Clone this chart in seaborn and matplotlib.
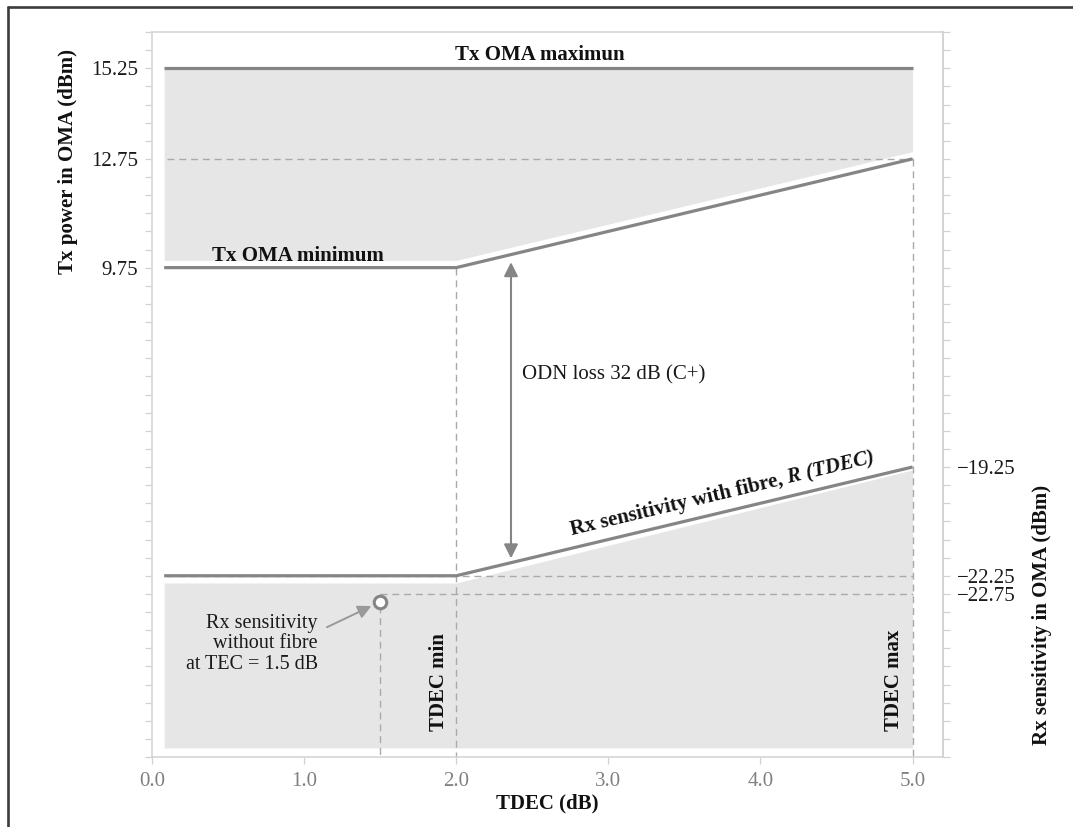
import numpy as np
import pandas as pd
import matplotlib
matplotlib.use("Agg")
import matplotlib.pyplot as plt
import matplotlib.transforms as mtransforms
from matplotlib.lines import Line2D
from matplotlib.ticker import FixedLocator, FixedFormatter
import seaborn as sns

# ---- data -------------------------------------------------------------
tdec = [0.08, 2.0, 5.0]                 # TDEC (dB) break points
tx_oma_max = [15.25, 15.25, 15.25]      # Tx OMA maximum (dBm)
tx_oma_min = [9.75, 9.75, 12.75]        # Tx OMA minimum (dBm)
rx_sens = [-22.25, -22.25, -19.25]      # Rx sensitivity with fibre, R(TDEC) (dBm)
odn_loss = 32                           # dB, class C+
tdec_min, tdec_max = 2.0, 5.0
tec_ref = 1.5                           # TEC of the reference receiver (dB)
rx_sens_no_fibre = -22.75               # Rx sensitivity without fibre (dBm)

tx_tick_values = [9.75, 12.75, 15.25]
tx_tick_labels = ["9.75", "12.75", "15.25"]
rx_tick_values = [-22.75, -22.25, -19.25]
rx_tick_labels = ["\u221222.75", "\u221222.25", "\u221219.25"]
x_tick_values = [0.0, 1.0, 2.0, 3.0, 4.0, 5.0]
x_tick_labels = ["0.0", "1.0", "2.0", "3.0", "4.0", "5.0"]

# ---- style ------------------------------------------------------------
sns.set_theme(style="white")
plt.rcParams["font.family"] = ["Liberation Serif", "DejaVu Serif"]

LINE = "#858585"
DASH = "#a9a9a9"
FILL = "#e6e6e6"
SPINE = "#d2d2d2"
FS = 15

# the Rx scale on the right is drawn 23.5 dB below the Tx scale on the left
AXIS_SHIFT = 23.5
def rx_to_tx(v):
    return np.asarray(v, dtype=float) + AXIS_SHIFT
def tx_to_rx(v):
    return np.asarray(v, dtype=float) - AXIS_SHIFT

W, H = 1073, 827
fig = plt.figure(figsize=(W / 100, H / 100), dpi=100)
ax = fig.add_axes([152 / W, 1 - 757 / H, (943 - 152) / W, (757 - 32) / H])
ax.set_xlim(0, 5.2)
ax.set_ylim(-3.75, 16.25)

df = pd.DataFrame({
    "TDEC": tdec,
    "tx_max": tx_oma_max,
    "tx_min": tx_oma_min,
    "rx": rx_to_tx(rx_sens),
})

# shaded regions, separated from the limit lines by a thin white band
gap_tx = 0.2
gap_rx = np.array([0.2, 0.2, 0.08])
ax.fill_between(df["TDEC"], df["tx_max"], df["tx_min"] + gap_tx,
                color=FILL, lw=0, zorder=1)
ax.fill_between(df["TDEC"], rx_to_tx(-27.0), df["rx"] - gap_rx,
                color=FILL, lw=0, zorder=1)

# dashed guide lines
dash_kw = dict(color=DASH, lw=1.0, dashes=(5, 3.5), zorder=2)
y_lo = ax.get_ylim()[0]
ax.plot([0.1, tdec_max], [12.75, 12.75], **dash_kw)
ax.plot([0.1, tdec_max], rx_to_tx([rx_sens[0], rx_sens[0]]), **dash_kw)
ax.plot([tec_ref, tdec_max], rx_to_tx([rx_sens_no_fibre, rx_sens_no_fibre]), **dash_kw)
ax.plot([tdec_min, tdec_min], [tx_oma_min[1], y_lo], **dash_kw)
ax.plot([tdec_max, tdec_max], [tx_oma_min[2], y_lo], **dash_kw)
ax.plot([tec_ref, tec_ref], [rx_to_tx(rx_sens_no_fibre), y_lo], **dash_kw)

# limit lines
for col in ["tx_max", "tx_min", "rx"]:
    sns.lineplot(data=df, x="TDEC", y=col, ax=ax, color=LINE, lw=2.3,
                 errorbar=None, solid_capstyle="butt", zorder=3)
ax.set_xlabel("")
ax.set_ylabel("")

# reference receiver point
marker_shift = mtransforms.ScaledTranslation(0, -8 / 100, fig.dpi_scale_trans)
ax.plot([tec_ref], [rx_to_tx(rx_sens_no_fibre)], marker="o", ms=9, mfc="white",
        mec=LINE, mew=2.2, transform=ax.transData + marker_shift, zorder=4)

ax.annotate("", xy=(tec_ref, rx_to_tx(rx_sens_no_fibre)),
            xycoords=ax.transData + marker_shift,
            xytext=(1.15, -0.17), textcoords="data",
            arrowprops=dict(arrowstyle="-|>", color="#999999", lw=1.4,
                            mutation_scale=20, shrinkA=0, shrinkB=7))
ax.text(1.09, -0.63, "Rx sensitivity\nwithout fibre\nat TEC = 1.5 dB",
        ha="right", va="center", multialignment="right", fontsize=14.5,
        linespacing=1.12, color="#1a1a1a", zorder=5)

# ODN loss double arrow
x_arrow = 2.36
ax.annotate("", xy=(x_arrow, 9.9), xytext=(x_arrow, 1.73),
            arrowprops=dict(arrowstyle="<|-|>", color=LINE, lw=1.5,
                            mutation_scale=21, shrinkA=0, shrinkB=0), zorder=4)
ax.text(2.43, 6.78, f"ODN loss {odn_loss} dB (C+)", ha="left", va="center",
        fontsize=FS, color="#1a1a1a")

# line labels
ax.text(2.55, 15.47, "Tx OMA maximun", ha="center", va="baseline",
        fontsize=FS, fontweight="bold", color="#111111", zorder=5)
ax.text(0.3925, 9.94, "Tx OMA minimum", ha="left", va="baseline",
        fontsize=FS, fontweight="bold", color="#111111", zorder=5)

p0 = ax.transData.transform((tdec[1], df["rx"][1]))
p1 = ax.transData.transform((tdec[2], df["rx"][2]))
angle = np.degrees(np.arctan2(p1[1] - p0[1], p1[0] - p0[0]))
x_join = 4.152
y_join = rx_to_tx(rx_sens[1]) + (x_join - tdec[1]) * (rx_sens[2] - rx_sens[1]) / (tdec[2] - tdec[1]) + 0.36
ax.text(x_join, y_join, "Rx sensitivity with fibre,", ha="right", va="baseline",
        rotation=angle, rotation_mode="anchor", fontsize=FS, fontweight="bold",
        color="#111111", zorder=5)
ax.text(x_join, y_join, " R (TDEC)", ha="left", va="baseline",
        rotation=angle, rotation_mode="anchor", fontsize=FS, fontweight="bold",
        fontstyle="italic", color="#111111", zorder=5)

ax.text(tdec_min - 0.046, -3.03, "TDEC min", rotation=90, ha="right", va="bottom",
        fontsize=FS, fontweight="bold", color="#111111", zorder=5)
ax.text(tdec_max - 0.057, -3.03, "TDEC max", rotation=90, ha="right", va="bottom",
        fontsize=FS, fontweight="bold", color="#111111", zorder=5)

# ---- axes -------------------------------------------------------------
for s in ax.spines.values():
    s.set_color(SPINE)
    s.set_linewidth(1.1)
    s.set_visible(True)

minor_tx = np.arange(-3.75, 16.26, 0.5)
ax.yaxis.set_major_locator(FixedLocator(tx_tick_values))
ax.yaxis.set_major_formatter(FixedFormatter(tx_tick_labels))
ax.yaxis.set_minor_locator(FixedLocator(minor_tx))
ax.tick_params(axis="y", which="both", left=True, right=False, direction="out",
               length=5, width=0.9, color=SPINE, labelsize=FS,
               labelcolor="#1a1a1a", pad=5)

ax.xaxis.set_major_locator(FixedLocator(x_tick_values))
ax.xaxis.set_major_formatter(FixedFormatter(x_tick_labels))
ax.tick_params(axis="x", which="major", bottom=True, direction="out",
               length=5, width=0.9, color=SPINE, labelsize=FS,
               labelcolor="#808080", pad=6)

sec = ax.secondary_yaxis("right", functions=(tx_to_rx, rx_to_tx))
sec.yaxis.set_major_locator(FixedLocator(rx_tick_values))
sec.yaxis.set_major_formatter(FixedFormatter(rx_tick_labels))
sec.yaxis.set_minor_locator(FixedLocator(tx_to_rx(minor_tx)))
sec.tick_params(axis="y", which="both", direction="out", length=5, width=0.9,
                color=SPINE, labelsize=FS, labelcolor="#1a1a1a", pad=5)
for s in sec.spines.values():
    s.set_color(SPINE)
    s.set_linewidth(1.1)

fig.text(547 / W, 1 - 803 / H, "TDEC (dB)", ha="center", va="center",
         fontsize=FS, fontweight="bold", color="#111111")
fig.text(68 / W, 1 - 161 / H, "Tx power in OMA (dBm)", rotation=90,
         ha="center", va="center", fontsize=FS, fontweight="bold", color="#111111")
fig.text(1042 / W, 1 - 615 / H, "Rx sensitivity in OMA (dBm)", rotation=90,
         ha="center", va="center", fontsize=FS, fontweight="bold", color="#111111")

# outer frame
frame_kw = dict(transform=fig.transFigure, color="#3c3c3c", lw=1.9)
fig.add_artist(Line2D([8 / W, 8 / W], [0, 1 - 6.5 / H], **frame_kw))
fig.add_artist(Line2D([8 / W, 1], [1 - 6.5 / H, 1 - 6.5 / H], **frame_kw))

fig.savefig("out.png", dpi=100)
